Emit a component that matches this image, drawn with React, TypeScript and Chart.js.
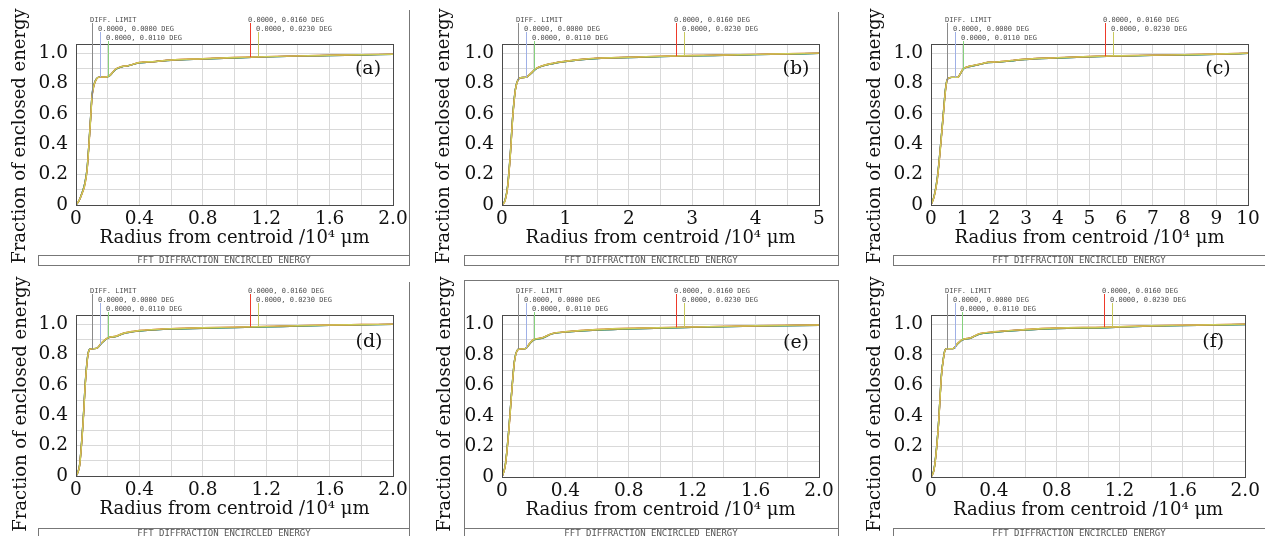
import React, { useEffect, useRef } from 'react';
import { Chart, registerables } from 'chart.js';

Chart.register(...registerables);

// ---------------- text ----------------
const xTitle = 'Radius from centroid /10⁴ μm';
const yTitle = 'Fraction of enclosed energy';
const footerText = 'FFT DIFFRACTION ENCIRCLED ENERGY';
const seriesNames = ['DIFF. LIMIT', '0.0000, 0.0000 DEG', '0.0000, 0.0110 DEG', '0.0000, 0.0160 DEG', '0.0000, 0.0230 DEG'];

// ---------------- tick labels ----------------
const yTickLabels = ['0', '0.2', '0.4', '0.6', '0.8', '1.0'];
const xTickLabels2 = ['0', '0.4', '0.8', '1.2', '1.6', '2.0'];
const xTickLabels5 = ['0', '1', '2', '3', '4', '5'];
const xTickLabels10 = ['0', '1', '2', '3', '4', '5', '6', '7', '8', '9', '10'];

// ---------------- data (radius in 10^4 um, fraction of enclosed energy) ----------------
// (a)
const radiusA = [0, 0.02, 0.04, 0.055, 0.07, 0.082, 0.093, 0.101, 0.114, 0.13, 0.146, 0.19, 0.215, 0.25, 0.29, 0.33, 0.4, 0.5, 0.6, 0.8, 1.0, 1.2, 1.4, 1.6, 1.8, 2.0];
const eeNearA = [0, 0.03, 0.085, 0.14, 0.24, 0.41, 0.59, 0.72, 0.795, 0.832, 0.842, 0.842, 0.853, 0.893, 0.91, 0.917, 0.936, 0.944, 0.953, 0.961, 0.968, 0.975, 0.98, 0.984, 0.988, 0.992];
const eeFarA = [0, 0.03, 0.08, 0.13, 0.23, 0.4, 0.58, 0.71, 0.79, 0.83, 0.842, 0.843, 0.855, 0.895, 0.912, 0.918, 0.938, 0.945, 0.955, 0.963, 0.971, 0.977, 0.982, 0.986, 0.99, 0.993];
const markerXA = [0.1, 0.15, 0.2, 1.1, 1.15];
const markerYA = [0.7, 0.842, 0.842, 0.974, 0.975];

// (b)
const radiusB = [0, 0.05, 0.09, 0.13, 0.17, 0.21, 0.25, 0.29, 0.37, 0.45, 0.53, 0.66, 0.81, 0.97, 1.23, 1.5, 2.0, 2.5, 3.0, 3.5, 4.0, 4.5, 5.0];
const eeNearB = [0, 0.035, 0.13, 0.33, 0.59, 0.76, 0.822, 0.838, 0.84, 0.863, 0.895, 0.918, 0.932, 0.943, 0.956, 0.965, 0.971, 0.977, 0.982, 0.986, 0.99, 0.994, 0.998];
const eeFarB = [0, 0.03, 0.12, 0.32, 0.58, 0.755, 0.82, 0.838, 0.84, 0.865, 0.897, 0.92, 0.934, 0.945, 0.958, 0.967, 0.973, 0.979, 0.984, 0.988, 0.992, 0.996, 1.0];
const markerXB = [0.25, 0.375, 0.5, 2.75, 2.875];
const markerYB = [0.82, 0.84, 0.885, 0.981, 0.982];

// (c)
const radiusC = [0, 0.1, 0.2, 0.3, 0.4, 0.45, 0.5, 0.56, 0.65, 0.85, 0.91, 1.02, 1.18, 1.49, 1.8, 2.1, 2.55, 2.96, 4.0, 5.0, 6.0, 7.0, 8.0, 9.0, 10.0];
const eeNearC = [0, 0.06, 0.18, 0.39, 0.63, 0.75, 0.818, 0.836, 0.84, 0.84, 0.858, 0.895, 0.91, 0.923, 0.938, 0.94, 0.95, 0.958, 0.968, 0.976, 0.981, 0.985, 0.988, 0.992, 0.998];
const eeFarC = [0, 0.055, 0.17, 0.38, 0.62, 0.74, 0.815, 0.836, 0.84, 0.84, 0.86, 0.897, 0.912, 0.925, 0.94, 0.942, 0.952, 0.96, 0.97, 0.978, 0.983, 0.987, 0.99, 0.994, 1.0];
const markerXC = [0.5, 0.75, 1.0, 5.5, 5.75];
const markerYC = [0.815, 0.84, 0.888, 0.98, 0.981];

// (d)
const radiusD = [0, 0.01, 0.023, 0.044, 0.061, 0.076, 0.09, 0.13, 0.16, 0.2, 0.25, 0.3, 0.4, 0.5, 0.6, 0.8, 1.0, 1.2, 1.4, 1.6, 1.8, 2.0];
const eeNearD = [0, 0.02, 0.075, 0.35, 0.65, 0.805, 0.836, 0.84, 0.872, 0.908, 0.918, 0.938, 0.955, 0.962, 0.967, 0.973, 0.977, 0.982, 0.987, 0.992, 0.995, 0.998];
const eeFarD = [0, 0.02, 0.07, 0.34, 0.64, 0.8, 0.835, 0.84, 0.875, 0.91, 0.92, 0.94, 0.958, 0.965, 0.97, 0.976, 0.98, 0.985, 0.99, 0.994, 0.997, 1.0];
const markerXD = [0.1, 0.15, 0.2, 1.1, 1.15];
const markerYD = [0.837, 0.865, 0.91, 0.983, 0.984];

// (e)
const radiusE = [0, 0.021, 0.042, 0.063, 0.078, 0.095, 0.11, 0.147, 0.175, 0.2, 0.25, 0.32, 0.4, 0.6, 0.9, 1.2, 1.6, 2.0];
const eeNearE = [0, 0.08, 0.3, 0.585, 0.755, 0.828, 0.838, 0.84, 0.872, 0.897, 0.908, 0.938, 0.948, 0.962, 0.972, 0.979, 0.987, 0.993];
const eeFarE = [0, 0.076, 0.29, 0.576, 0.75, 0.826, 0.838, 0.84, 0.875, 0.9, 0.91, 0.94, 0.95, 0.965, 0.975, 0.982, 0.99, 0.995];
const markerXE = [0.1, 0.15, 0.2, 1.1, 1.15];
const markerYE = [0.838, 0.845, 0.9, 0.979, 0.98];

// (f)
const radiusF = [0, 0.02, 0.045, 0.067, 0.08, 0.088, 0.1, 0.14, 0.17, 0.2, 0.25, 0.3, 0.4, 0.6, 0.8, 1.1, 1.4, 1.7, 2.0];
const eeNearF = [0, 0.055, 0.31, 0.675, 0.785, 0.828, 0.84, 0.84, 0.872, 0.897, 0.908, 0.932, 0.947, 0.962, 0.972, 0.977, 0.987, 0.992, 0.998];
const eeFarF = [0, 0.05, 0.3, 0.667, 0.78, 0.825, 0.84, 0.84, 0.875, 0.9, 0.91, 0.935, 0.95, 0.965, 0.975, 0.98, 0.99, 0.995, 1.0];
const markerXF = [0.1, 0.15, 0.2, 1.1, 1.15];
const markerYF = [0.84, 0.84, 0.9, 0.98, 0.982];

// ---------------- styles ----------------
const seriesColors = ['#7a7a7a', '#4f6bd0', '#5bbf55', '#e4402c', '#cdcd58'];
const markerColors = ['#8a8a8a', '#9fb0e6', '#86d07c', '#ee3a2a', '#c9c95e'];
const SERIF = '"DejaVu Serif", serif';
const MONO = '"DejaVu Sans Mono", monospace';
const Y_MAX = 1.06;
const X_AXIS_H = 42;
const Y_TITLE_Y = 136;

type PanelDef = {
  tag: string;
  left: number; top: number; width: number; height: number;
  area: { l: number; t: number; r: number; b: number };
  yTitleX: number; tagDx: number; tagDy: number;
  xMax: number; xStep: number; xTicks: string[];
  radius: number[]; near: number[]; far: number[];
  markerX: number[]; markerY: number[];
  lines: number[][]; footer: number[];
};

const panels: PanelDef[] = [
  {
    tag: '(a)', left: 0, top: 0, width: 420, height: 268,
    area: { l: 76, t: 44, r: 393, b: 205 }, yTitleX: 22, tagDx: 25, tagDy: 25,
    xMax: 2, xStep: 0.2, xTicks: xTickLabels2,
    radius: radiusA, near: eeNearA, far: eeFarA, markerX: markerXA, markerY: markerYA,
    lines: [[38, 255.5, 410, 255.5], [38, 265.5, 410, 265.5], [38.5, 255, 38.5, 266], [409.5, 10, 409.5, 266]],
    footer: [224, 260.5],
  },
  {
    tag: '(b)', left: 420, top: 0, width: 425, height: 268,
    area: { l: 82, t: 44, r: 399, b: 205 }, yTitleX: 26, tagDx: 23, tagDy: 25,
    xMax: 5, xStep: 0.5, xTicks: xTickLabels5,
    radius: radiusB, near: eeNearB, far: eeFarB, markerX: markerXB, markerY: markerYB,
    lines: [[44, 255.5, 419, 255.5], [44, 265.5, 419, 265.5], [44.5, 255, 44.5, 266], [418.5, 12, 418.5, 266]],
    footer: [231, 260.5],
  },
  {
    tag: '(c)', left: 845, top: 0, width: 420, height: 268,
    area: { l: 86, t: 44, r: 403, b: 205 }, yTitleX: 31.5, tagDx: 30, tagDy: 25,
    xMax: 10, xStep: 1, xTicks: xTickLabels10,
    radius: radiusC, near: eeNearC, far: eeFarC, markerX: markerXC, markerY: markerYC,
    lines: [[48, 255.5, 420, 255.5], [48, 265.5, 420, 265.5], [48.5, 255, 48.5, 266]],
    footer: [234, 260.5],
  },
  {
    tag: '(d)', left: 0, top: 268, width: 420, height: 268,
    area: { l: 76, t: 47, r: 393, b: 208 }, yTitleX: 22.5, tagDx: 24, tagDy: 27,
    xMax: 2, xStep: 0.2, xTicks: xTickLabels2,
    radius: radiusD, near: eeNearD, far: eeFarD, markerX: markerXD, markerY: markerYD,
    lines: [[38, 260.5, 410, 260.5], [38.5, 260, 38.5, 268], [409.5, 14, 409.5, 268]],
    footer: [224, 265.5],
  },
  {
    tag: '(e)', left: 420, top: 268, width: 425, height: 268,
    area: { l: 82, t: 47, r: 399, b: 209 }, yTitleX: 26.5, tagDx: 23, tagDy: 28,
    xMax: 2, xStep: 0.2, xTicks: xTickLabels2,
    radius: radiusE, near: eeNearE, far: eeFarE, markerX: markerXE, markerY: markerYE,
    lines: [[44, 12.5, 419, 12.5], [44.5, 12, 44.5, 268], [418.5, 12, 418.5, 268], [44, 260.5, 419, 260.5]],
    footer: [231, 265.5],
  },
  {
    tag: '(f)', left: 845, top: 268, width: 420, height: 268,
    area: { l: 86, t: 47, r: 403, b: 209 }, yTitleX: 31.7, tagDx: 32, tagDy: 27,
    xMax: 2, xStep: 0.2, xTicks: xTickLabels2,
    radius: radiusF, near: eeNearF, far: eeFarF, markerX: markerXF, markerY: markerYF,
    lines: [[48, 260.5, 420, 260.5], [48.5, 260, 48.5, 268]],
    footer: [234, 265.5],
  },
];

function labelFor(value: number, labels: string[]): string {
  const hit = labels.find((l) => Math.abs(parseFloat(l) - value) < 1e-6);
  return hit === undefined ? '' : hit;
}

function makeDecor(p: PanelDef) {
  const rows = [0, 1, 2, 0, 1];
  return {
    id: 'zemaxDecor' + p.tag,
    afterDatasetsDraw(chart: any) {
      const { ctx, chartArea: ca, scales } = chart;
      const xs = scales.x;
      const ys = scales.y;
      ctx.save();
      // plot frame
      ctx.strokeStyle = '#4a4a4a';
      ctx.lineWidth = 1;
      ctx.strokeRect(Math.round(ca.left) + 0.5, Math.round(ca.top) + 0.5, Math.round(ca.right - ca.left), Math.round(ca.bottom - ca.top));
      // field markers
      ctx.font = '7px ' + MONO;
      ctx.textAlign = 'left';
      ctx.textBaseline = 'alphabetic';
      seriesNames.forEach((name, i) => {
        const px = Math.round(xs.getPixelForValue(p.markerX[i])) + 0.5;
        const base = ca.top - 22 + rows[i] * 9;
        const yEnd = ys.getPixelForValue(p.markerY[i]);
        ctx.strokeStyle = markerColors[i];
        ctx.beginPath();
        ctx.moveTo(px, base + 1);
        ctx.lineTo(px, yEnd);
        ctx.stroke();
        ctx.fillStyle = '#505050';
        ctx.fillText(name, px - 2.5, base);
      });
      // panel tag
      ctx.font = '19px ' + SERIF;
      ctx.textAlign = 'center';
      ctx.textBaseline = 'middle';
      ctx.fillStyle = '#111';
      ctx.fillText(p.tag, ca.right - p.tagDx, ca.top + p.tagDy);
      ctx.restore();
    },
    afterDraw(chart: any) {
      const { ctx } = chart;
      ctx.save();
      // y axis title
      ctx.translate(p.yTitleX - 1.5, Y_TITLE_Y);
      ctx.rotate(-Math.PI / 2);
      ctx.font = '18px ' + SERIF;
      ctx.textAlign = 'center';
      ctx.textBaseline = 'middle';
      ctx.fillStyle = '#111';
      ctx.fillText(yTitle, 0, 0);
      ctx.restore();

      ctx.save();
      ctx.strokeStyle = '#777';
      ctx.lineWidth = 1;
      p.lines.forEach(([x1, y1, x2, y2]) => {
        ctx.beginPath();
        ctx.moveTo(x1, y1);
        ctx.lineTo(x2, y2);
        ctx.stroke();
      });
      ctx.font = '9px ' + MONO;
      ctx.textAlign = 'center';
      ctx.textBaseline = 'middle';
      ctx.fillStyle = '#555';
      ctx.fillText(footerText, p.footer[0], p.footer[1]);
      ctx.restore();
    },
  };
}

function buildConfig(p: PanelDef): any {
  const seriesData = [p.near, p.near, p.near, p.far, p.far];
  const datasets = [4, 3, 2, 1, 0].map((i) => ({
    label: seriesNames[i],
    data: p.radius.map((x, k) => ({ x, y: seriesData[i][k] })),
    borderColor: seriesColors[i],
    backgroundColor: seriesColors[i],
    borderWidth: 1.4,
    pointRadius: 0,
    cubicInterpolationMode: 'monotone',
    fill: false,
  }));
  const titleMiddle = p.yTitleX - 1.5;
  const yAxisW = p.area.l - titleMiddle + 9;
  return {
    type: 'line',
    data: { datasets },
    options: {
      animation: false,
      responsive: false,
      events: [],
      layout: {
        padding: {
          left: p.area.l - yAxisW,
          top: p.area.t,
          right: p.width - p.area.r,
          bottom: p.height - p.area.b - X_AXIS_H,
        },
      },
      plugins: { legend: { display: false }, tooltip: { enabled: false } },
      scales: {
        x: {
          type: 'linear',
          min: 0,
          max: p.xMax,
          afterFit: (s: any) => { s.height = X_AXIS_H; },
          grid: { color: '#d9d9d9', drawTicks: false, lineWidth: 1 },
          border: { display: true, color: '#4a4a4a' },
          ticks: {
            stepSize: p.xStep,
            autoSkip: false,
            maxRotation: 0,
            padding: 5,
            color: '#111',
            font: { family: SERIF, size: 18.5, lineHeight: 1 },
            callback: (v: any) => labelFor(Number(v), p.xTicks),
          },
          title: {
            display: true,
            text: xTitle,
            color: '#111',
            font: { family: SERIF, size: 18, lineHeight: 1 },
            padding: 0,
          },
        },
        y: {
          type: 'linear',
          min: 0,
          max: Y_MAX,
          afterFit: (s: any) => { s.width = yAxisW; },
          afterBuildTicks: (s: any) => {
            const t = [];
            for (let k = 0; k <= 10; k++) t.push({ value: k / 10 });
            s.ticks = t;
          },
          grid: { color: '#d9d9d9', drawTicks: false, lineWidth: 1 },
          border: { display: true, color: '#4a4a4a' },
          ticks: {
            autoSkip: false,
            padding: 8,
            color: '#111',
            font: { family: SERIF, size: 18.5, lineHeight: 1 },
            callback: (v: any) => labelFor(Number(v), yTickLabels),
          },
          title: { display: false, text: yTitle },
        },
      },
    },
    plugins: [makeDecor(p)],
  };
}

function Panel({ p }: { p: PanelDef }) {
  const ref = useRef<HTMLCanvasElement>(null);
  useEffect(() => {
    const chart = new Chart(ref.current as HTMLCanvasElement, buildConfig(p));
    return () => chart.destroy();
  }, [p]);
  return (
    <div style={{ position: 'absolute', left: p.left, top: p.top, width: p.width, height: p.height }}>
      <canvas ref={ref} width={p.width} height={p.height} style={{ display: 'block', width: p.width, height: p.height }} />
    </div>
  );
}

export default function App() {
  return (
    <div style={{ position: 'absolute', left: 0, top: 0, width: 1265, height: 536, background: '#fff', overflow: 'hidden' }}>
      {panels.map((p) => (
        <Panel key={p.tag} p={p} />
      ))}
    </div>
  );
}
